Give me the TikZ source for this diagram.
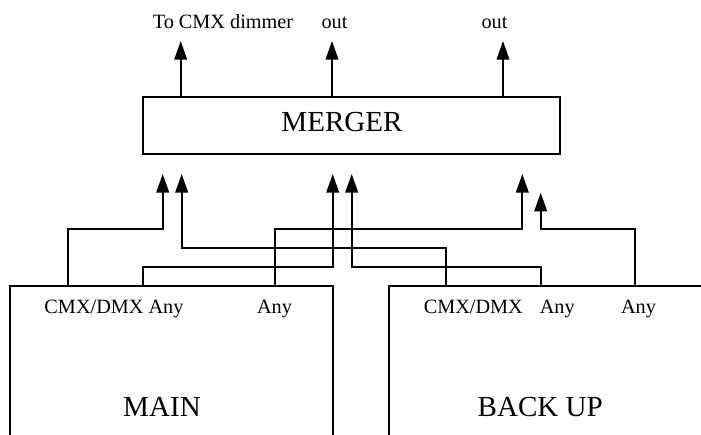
\documentclass[tikz,border=0pt]{standalone}
\usepackage{fontspec}
\setmainfont{Liberation Serif}
\usetikzlibrary{arrows.meta}
\begin{document}
\begin{tikzpicture}[x=0.75pt,y=-0.75pt,
  boxline/.style={line width=1.7pt},
  conn/.style={line width=1.45pt,-{Triangle[length=14pt,width=9.5pt]}},
  outarr/.style={line width=1.2pt,-{Triangle[length=14pt,width=9.5pt]}},
  small/.style={font=\fontsize{15.2}{18}\selectfont,inner sep=0pt,anchor=base},
  big/.style={font=\fontsize{21.8}{26}\selectfont,inner sep=0pt,anchor=base}]
\useasboundingbox (0,0) rectangle (701,435);
% merger
\node[draw,boxline,minimum width=312.75pt,minimum height=42.75pt,inner sep=0pt] (merger) at (351.3,125.7) {};
\node[big] (mergertext) at (342,131.7) {MERGER};
% boxes
\draw[boxline] (10,435) -- (10,286) -- (333,286) -- (333,435);
\draw[boxline] (389,435) -- (389,286) -- (701,286);
\node[big] (maintext) at (162,416.7) {MAIN};
\node[big] (backtext) at (540.3,416.7) {BACK UP};
% port labels
\node[small] (l1) at (114,313.3) {CMX/DMX Any};
\node[small] (l2) at (274.5,313.3) {Any};
\node[small] (l3) at (473.3,313.3) {CMX/DMX};
\node[small] (l4) at (557.3,313.3) {Any};
\node[small] (l5) at (638.5,313.3) {Any};
% ports
\coordinate (p1) at (67.7,286);
\coordinate (p2) at (143.3,286);
\coordinate (p3) at (275.3,286);
\coordinate (q1) at (446,286);
\coordinate (q2) at (540.7,286);
\coordinate (q3) at (635.3,286);
% tips
\coordinate (t1) at (162.7,174);
\coordinate (t2) at (181.7,174);
\coordinate (t3) at (332.7,174);
\coordinate (t4) at (351.7,174);
\coordinate (t5) at (522.3,174);
\coordinate (t6) at (540.7,192.7);
% connectors
\draw[conn] (p1) -- ++(0,-56.7) -| (t1);
\draw[conn] (q1) -- ++(0,-37.7) -| (t2);
\draw[conn] (p2) -- ++(0,-18.7) -| (t3);
\draw[conn] (q2) -- ++(0,-18.7) -| (t4);
\draw[conn] (p3) -- ++(0,-56.7) -| (t5);
\draw[conn] (q3) -- ++(0,-56.7) -| (t6);
% outputs
\coordinate (o1) at (180.7,41);
\coordinate (o2) at (332,41);
\coordinate (o3) at (503,41);
\draw[outarr] (merger.north -| o1) -- (o1);
\draw[outarr] (merger.north -| o2) -- (o2);
\draw[outarr] (merger.north -| o3) -- (o3);
\node[small] (ol1) at (223,29) {To CMX dimmer};
\node[small] (ol2) at (334.5,29) {out};
\node[small] (ol3) at (494.5,29) {out};
\end{tikzpicture}
\end{document}
